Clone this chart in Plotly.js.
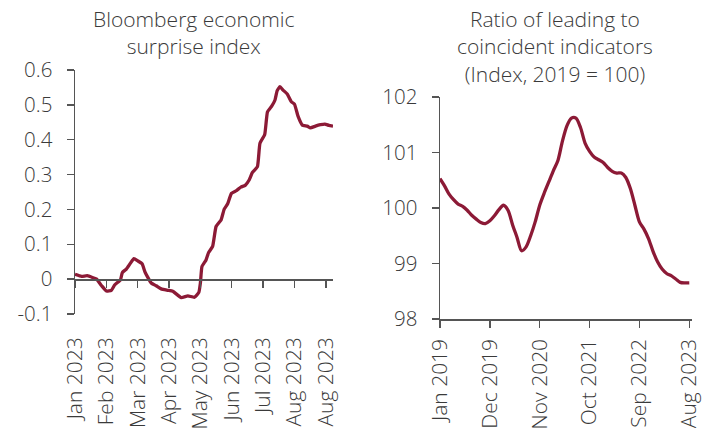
<!DOCTYPE html>
<html>
<head>
<meta charset="utf-8">
<script src="https://cdn.plot.ly/plotly-3.0.1.min.js"></script>
<style>html,body{margin:0;padding:0;background:#fff;}#chart{width:713px;height:428px;}</style>
</head>
<body>
<div id="chart"></div>
<script>
// Left panel: Bloomberg economic surprise index (2023)
const surpriseTickPos = [0, 10, 20, 30, 40, 50, 60, 70, 80];
const surpriseTickLabels = ["Jan 2023", "Feb 2023", "Mar 2023", "Apr 2023", "May 2023", "Jun 2023", "Jul 2023", "Aug 2023", "Aug 2023"];
const surpriseX = [0, 2.1, 3.9, 5.8, 6.9, 8.5, 10, 11.6, 12.7, 14.5, 15.1, 16.4, 17.7, 18.8, 20.1, 21.4, 22.4, 24.3, 25.9, 27.5, 29.6, 31.2, 33.9, 36, 38.1, 39.5, 40, 40.5, 41.8, 42.6, 43.9, 45, 46.6, 47.6, 48.7, 49.9, 51.5, 52.9, 54.3, 55.6, 56.6, 58.2, 59, 60.5, 61.4, 62.8, 63.8, 64.5, 65.4, 66.3, 67.7, 69, 70, 71.2, 72.5, 74.1, 75.1, 76.7, 78.3, 79.7, 81, 82.3];
const surpriseY = [0.014, 0.008, 0.010, 0.004, 0, -0.019, -0.034, -0.032, -0.016, -0.002, 0.019, 0.029, 0.046, 0.059, 0.052, 0.044, 0.019, -0.011, -0.019, -0.028, -0.032, -0.035, -0.053, -0.048, -0.052, -0.038, -0.011, 0.036, 0.055, 0.076, 0.094, 0.151, 0.170, 0.201, 0.216, 0.246, 0.254, 0.264, 0.269, 0.285, 0.306, 0.323, 0.390, 0.414, 0.480, 0.497, 0.514, 0.541, 0.552, 0.543, 0.531, 0.509, 0.502, 0.466, 0.442, 0.439, 0.434, 0.439, 0.443, 0.445, 0.441, 0.439];
const surpriseYTicks = [-0.1, 0, 0.1, 0.2, 0.3, 0.4, 0.5, 0.6];
const surpriseYLabels = ["-0.1", "0", "0.1", "0.2", "0.3", "0.4", "0.5", "0.6"];

// Right panel: ratio of leading to coincident indicators, monthly Jan 2019 - Aug 2023
const ratioTickPos = [0, 11, 22, 33, 44, 55];
const ratioTickLabels = ["Jan 2019", "Dec 2019", "Nov 2020", "Oct 2021", "Sep 2022", "Aug 2023"];
const ratioY = [100.53, 100.40, 100.25, 100.15, 100.07, 100.03, 99.96, 99.87, 99.80, 99.74, 99.72, 99.77, 99.86, 99.97, 100.05, 99.96, 99.70, 99.47, 99.23, 99.30, 99.50, 99.75, 100.05, 100.27, 100.47, 100.67, 100.85, 101.20, 101.48, 101.62, 101.62, 101.45, 101.17, 101.02, 100.92, 100.87, 100.82, 100.73, 100.66, 100.63, 100.63, 100.55, 100.35, 100.05, 99.75, 99.62, 99.45, 99.22, 99.03, 98.90, 98.82, 98.78, 98.72, 98.66, 98.65, 98.65];
const ratioX = ratioY.map((v, i) => i);
const ratioYTicks = [98, 99, 100, 101, 102];

const W = 713, H = 428;
const lineColor = "#8c1a36";
const axisColor = "#555555";
const textColor = "#3a3a3a";
const fam = "'Open Sans', Lato, sans-serif";
const xTickFont = {family: fam, size: 21, color: textColor, weight: 300};
const yTickFont = {family: fam, size: 20.5, color: textColor, weight: 300};
const titleFont = {family: fam, size: 21, color: textColor, weight: 300};

const lDom = [75 / W, 333 / W];
const lYDom = [1 - 314 / H, 1 - 70 / H];
const rDom = [440 / W, 692 / W];
const rYDom = [1 - 319 / H, 1 - 97 / H];
const zeroPos = lYDom[0] + (0 - (-0.1)) / 0.7 * (lYDom[1] - lYDom[0]);

const traces = [
  {x: surpriseX, y: surpriseY, xaxis: "x", yaxis: "y", mode: "lines", line: {color: lineColor, width: 3.3, shape: "spline", smoothing: 0.4}, hoverinfo: "skip", showlegend: false},
  {x: [0], y: [0], xaxis: "x3", yaxis: "y", mode: "markers", marker: {opacity: 0, size: 1}, hoverinfo: "skip", showlegend: false},
  {x: ratioX, y: ratioY, xaxis: "x2", yaxis: "y2", mode: "lines", line: {color: lineColor, width: 3.3, shape: "spline", smoothing: 0.8}, hoverinfo: "skip", showlegend: false}
];

const layout = {
  width: W, height: H,
  margin: {l: 0, r: 0, t: 0, b: 0},
  paper_bgcolor: "#ffffff", plot_bgcolor: "rgba(0,0,0,0)",
  showlegend: false,
  xaxis: {domain: lDom, range: [0, 82.3], anchor: "free", position: zeroPos, showgrid: false, zeroline: false,
          showline: true, linecolor: axisColor, linewidth: 1.5, ticks: "outside", ticklen: 7, tickwidth: 1.5, tickcolor: axisColor,
          tickvals: surpriseTickPos, showticklabels: false, fixedrange: true},
  xaxis3: {overlaying: "x", anchor: "y", side: "bottom", range: [0, 82.3], showgrid: false, zeroline: false, showline: false,
           ticks: "", tickvals: surpriseTickPos, ticktext: surpriseTickLabels, tickangle: -90, tickfont: xTickFont,
           ticklabelstandoff: 18, fixedrange: true},
  yaxis: {domain: lYDom, anchor: "x", range: [-0.1, 0.6], showgrid: false, zeroline: false, showline: true, linecolor: axisColor,
          linewidth: 1.5, ticks: "outside", ticklen: 7, tickwidth: 1.5, tickcolor: axisColor,
          tickvals: surpriseYTicks, ticktext: surpriseYLabels, tickfont: yTickFont, ticklabelstandoff: 10, fixedrange: true},
  xaxis2: {domain: rDom, anchor: "y2", range: [0, 55.6], showgrid: false, zeroline: false, showline: true, linecolor: axisColor,
           linewidth: 1.5, ticks: "outside", ticklen: 7, tickwidth: 1.5, tickcolor: axisColor,
           tickvals: ratioTickPos, ticktext: ratioTickLabels, tickangle: -90, tickfont: xTickFont, ticklabelstandoff: 3, fixedrange: true},
  yaxis2: {domain: rYDom, anchor: "x2", range: [98, 102], showgrid: false, zeroline: false, showline: true, linecolor: axisColor,
           linewidth: 1.5, ticks: "outside", ticklen: 7, tickwidth: 1.5, tickcolor: axisColor,
           tickvals: ratioYTicks, tickfont: yTickFont, ticklabelstandoff: 10, fixedrange: true},
  annotations: [
    {text: "Bloomberg economic<br>surprise index", xref: "paper", yref: "paper", x: 194 / W, y: 1 - 3 / H, xanchor: "center", yanchor: "top",
     showarrow: false, align: "center", font: titleFont},
    {text: "Ratio of leading to<br>coincident indicators<br>(Index, 2019 = 100)", xref: "paper", yref: "paper", x: 555 / W, y: 1 - 3 / H,
     xanchor: "center", yanchor: "top", showarrow: false, align: "center", font: titleFont}
  ]
};

Plotly.newPlot("chart", traces, layout, {staticPlot: true, displayModeBar: false});
</script>
</body>
</html>
